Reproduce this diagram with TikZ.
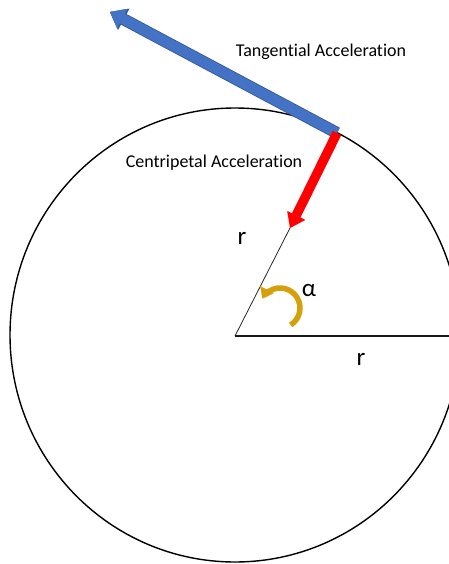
\documentclass[tikz,border=0pt]{standalone}
\usepackage{fontspec}
\setmainfont{Carlito}[RawFeature={-liga}]
\usepackage{xcolor}
\usepackage{tikz}
\usetikzlibrary{arrows.meta,calc}
\definecolor{tanblue}{RGB}{68,114,196}
\definecolor{tanedge}{RGB}{49,85,150}
\definecolor{turngold}{RGB}{214,160,10}
\tikzset{
  rim-line/.style={draw=black, line width=1.4pt},
  radius-line/.style={draw=black!85, line width=0.8pt},
  base-line/.style={draw=black!90, line width=1.4pt},
  tangent-arrow/.style={draw=tanblue, line width=10.5pt,
    -{Triangle[width=22pt,length=14pt,line width=0.01pt]},
    preaction={draw=tanedge, line width=12pt,
      -{Triangle[width=24pt,length=15.5pt,line width=0.01pt]}}},
  centripetal-arrow/.style={draw=red, line width=9.5pt,
    -{Triangle[width=20pt,length=14pt,line width=0.01pt]}},
  turn-arrow/.style={draw=turngold, line width=5.5pt,
    -{Triangle[width=15pt,length=10pt,line width=0.01pt]}},
  label-text/.style={font=\fontsize{18}{22}\selectfont, inner sep=0pt},
  symbol-text/.style={font=\fontsize{25}{28}\selectfont, inner sep=0pt}
}
\begin{document}
\begin{tikzpicture}[x=1pt, y=1pt]
\useasboundingbox (0,0) rectangle (449,-564);
\clip (0,0) rectangle (449,-564);
% circle and radii
\coordinate (centre) at (235,-336);
\coordinate (rim) at (337,-133);
\coordinate (radius-end) at (290,-228);
\coordinate (base-end) at (449,-336);
\coordinate (tangent-tip) at (110,-12);
\draw[rim-line] (235,-335) ellipse [x radius=225, y radius=227];
\draw[radius-line] (centre) -- (radius-end);
\draw[base-line] (centre) -- (base-end);
% acceleration arrows
\draw[tangent-arrow] (rim) -- (tangent-tip);
\draw[centripetal-arrow] (rim) -- (radius-end);
% angle arrow
\draw[turn-arrow] ($(280,-308)+(-58:20)$) arc[start angle=-58, end angle=152, radius=20];
% labels
\node[label-text] (tangential) at (321,-52) {Tangential Acceleration};
\node[label-text] (centripetal) at (214,-163) {Centripetal Acceleration};
\node[symbol-text] (r-upper) at (242,-238) {r};
\node[symbol-text] (r-lower) at (361,-359) {r};
\node[symbol-text] (alpha) at (309,-291) {α};
\end{tikzpicture}
\end{document}
